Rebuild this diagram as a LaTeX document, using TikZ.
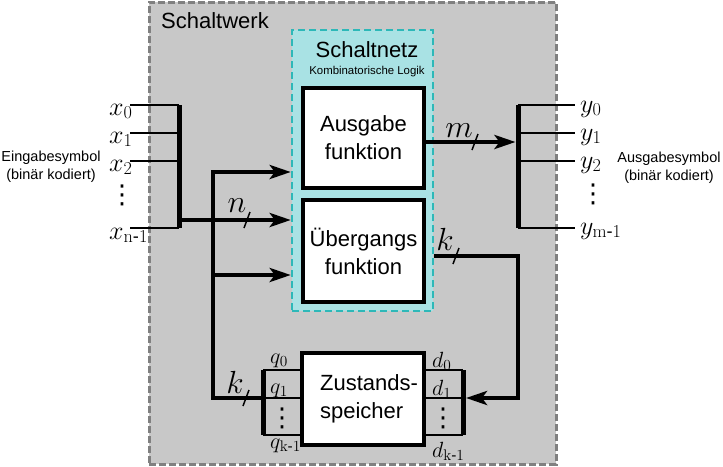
\RequirePackage{fix-cm}
\documentclass[tikz,border=0pt]{standalone}
\usepackage{amsmath}
\usepackage[no-math]{fontspec}
\setmainfont{Liberation Sans}
\newfontfamily\symfont{DejaVu Sans}
\usetikzlibrary{arrows.meta}
\newcommand{\punkte}{{\symfont ⋮}}
\definecolor{werkfill}{HTML}{C8C8C8}
\definecolor{werkline}{HTML}{808080}
\definecolor{netzfill}{HTML}{A9E2E4}
\definecolor{netzline}{HTML}{2DB8B8}

\begin{document}
\begin{tikzpicture}[
		x=1pt, y=-1pt,
		>={Stealth[length=21pt, width=14pt, inset=5pt]},
		werk/.style={
			draw=werkline, fill=werkfill, line width=3pt, dash pattern=on 7pt off 3pt,
			inner sep=0pt
		},
		netz/.style={
			draw=netzline, fill=netzfill, line width=2.5pt, dash pattern=on 7pt off 4pt,
			inner sep=0pt
		},
		block/.style={
			draw, line width=4pt, fill=white, minimum width=121pt,
			align=center, inner sep=0pt, font=\fontsize{22}{28}\selectfont
		},
		conn/.style={line width=4.5pt},
		bus/.style={line width=5pt},
		wire/.style={line width=1.5pt},
		title/.style={inner sep=0pt, font=\fontsize{22}{26}\selectfont},
		sidelabel/.style={align=center, font=\fontsize{14.5}{18}\selectfont},
		sig/.style={inner sep=0pt, anchor=base west, font=\fontsize{26}{30}\selectfont},
		reg/.style={inner sep=0pt, anchor=base west, font=\fontsize{22}{26}\selectfont},
		buslabel/.style={inner sep=0pt, anchor=base, font=\fontsize{32}{36}\selectfont},
		dots/.style={inner sep=0pt, font=\fontsize{26}{30}\selectfont}
		]
		
		\useasboundingbox (0,0) rectangle (723,466);
		
		% Frames
		\node[werk, minimum width=407pt, minimum height=462pt] (werk) at (352.5,233) {};
		\node[title, anchor=base west] (werktitle) at (161,28) {Schaltwerk};
		\node[netz, minimum width=141pt, minimum height=281pt] (netz) at (362.5,170.5) {};
		\node[title, anchor=base] (netztitle) at (367,57) {Schaltnetz};
		\node[inner sep=0pt, anchor=base, font=\fontsize{11.4}{13}\selectfont] (netzsub) at (367,74) {Kombinatorische Logik};
		
		% Main blocks
		\node[block, minimum height=100pt] (aus) at (363.5,138) {Ausgabe\\funktion};
		\node[block, minimum height=102pt] (ueb) at (363.5,251) {Übergangs\\funktion};
		\node[block, minimum width=122pt, minimum height=92pt, align=left] (zsp) at (363,399)
			{\hspace*{12pt}Zustands-\\\hspace*{12pt}speicher};
		
		% Side texts
		\node[sidelabel] (ein) at (51,167) {Eingabesymbol\\(binär kodiert)};
		\node[sidelabel] (aussym) at (669,168) {Ausgabesymbol\\(binär kodiert)};
		
		% --- Input bus ---
		\node[sig] (x0) at (109,115) {$x_0$};
		\node[sig] (x1) at (109,143) {$x_1$};
		\node[sig] (x2) at (109,171) {$x_2$};
		\node[dots] (xdots) at (122,195) {\punkte};
		\node[sig] (xn) at (109,239) {$x_{\mathrm{n}\text{-}\mathrm{1}}$};
		\coordinate (xs0) at (130,105);
		\coordinate (xs1) at (130,133);
		\coordinate (xs2) at (130,161);
		\coordinate (xsn) at (130,228);
		\coordinate (xb0) at (179,105);
		\coordinate (xb1) at (179,133);
		\coordinate (xb2) at (179,161);
		\coordinate (xbn) at (179,228);
		\draw[wire] (xs0) -- (xb0);
		\draw[wire] (xs1) -- (xb1);
		\draw[wire] (xs2) -- (xb2);
		\draw[wire] (xsn) -- (xbn);
		\draw[bus] (xb0) -- (xbn);
		
		% Input signals into the Schaltnetz
		\coordinate (nout) at (179,220);
		\coordinate (brtop) at (213,172);
		\coordinate (brlow) at (213,275);
		\coordinate (brbot) at (213,398);
		\coordinate (qin) at (263,398);
		\draw[conn,->] (nout) -- (nout -| netz.west);
		\draw[conn,->] (qin) -- (brbot) -- (brtop) -- (brtop -| netz.west);
		\draw[conn,->] (brlow) -- (brlow -| netz.west);
		\coordinate (sn) at (247,220);
		\draw[wire] (sn) ++(-3,8) -- ++(6,-16);
		\node[buslabel] (nlbl) at (237,212) {$n$};
		\coordinate (sk1) at (246,398);
		\draw[wire] (sk1) ++(-3,8) -- ++(6,-16);
		\node[buslabel] (klbl1) at (235,393) {$k$};
		
		% --- Output bus ---
		\coordinate (mbus) at (515.5,142);
		\draw[conn,->] (aus.east |- mbus) -- (mbus);
		\coordinate (sm) at (475,142);
		\draw[wire] (sm) ++(-3,8) -- ++(6,-16);
		\node[buslabel] (mlbl) at (459,137) {$m$};
		
		\coordinate (yb0) at (518,105);
		\coordinate (yb1) at (518,133);
		\coordinate (yb2) at (518,161);
		\coordinate (ybm) at (518,228);
		\coordinate (ye0) at (575,105);
		\coordinate (ye1) at (575,133);
		\coordinate (ye2) at (575,161);
		\coordinate (yem) at (575,228);
		\draw[bus] (yb0) -- (ybm);
		\draw[wire] (yb0) -- (ye0);
		\draw[wire] (yb1) -- (ye1);
		\draw[wire] (yb2) -- (ye2);
		\draw[wire] (ybm) -- (yem);
		\node[sig] (y0) at (580,112) {$y_0$};
		\node[sig] (y1) at (580,140) {$y_1$};
		\node[sig] (y2) at (580,168) {$y_2$};
		\node[dots] (ydots) at (593,194) {\punkte};
		\node[sig] (ym) at (580,234) {$y_{\mathrm{m}\text{-}\mathrm{1}}$};
		
		% --- Feedback through the Zustandsspeicher ---
		\coordinate (kcor1) at (518,256);
		\coordinate (kcor2) at (518,398);
		\coordinate (dbus) at (466,398);
		\draw[conn,->] (netz.east |- kcor1) -- (kcor1) -- (kcor2) -- (dbus);
		\coordinate (sk2) at (456,256);
		\draw[wire] (sk2) ++(-3,8) -- ++(6,-16);
		\node[buslabel] (klbl2) at (445,250) {$k$};
		
		% Register lines
		\coordinate (qb0) at (263,370);
		\coordinate (qb1) at (263,398);
		\coordinate (qbk) at (263,435);
		\coordinate (db0) at (463,370);
		\coordinate (db1) at (463,398);
		\coordinate (dbk) at (463,435);
		\draw[wire] (qb0) -- (qb0 -| zsp.west);
		\draw[wire] (qb1) -- (qb1 -| zsp.west);
		\draw[wire] (qbk) -- (qbk -| zsp.west);
		\draw[wire] (db0) -- (db0 -| zsp.east);
		\draw[wire] (db1) -- (db1 -| zsp.east);
		\draw[wire] (dbk) -- (dbk -| zsp.east);
		\draw[bus] (qb0) -- (qbk);
		\draw[bus] (db0) -- (dbk);
		\node[reg] (q0) at (270,363) {$q_0$};
		\node[reg] (q1) at (270,393) {$q_1$};
		\node[dots] (qdots) at (282,418) {\punkte};
		\node[reg] (qk) at (270,448) {$q_{\mathrm{k}\text{-}\mathrm{1}}$};
		\node[reg] (d0) at (432,367) {$d_0$};
		\node[reg] (d1) at (432,395) {$d_1$};
		\node[dots] (ddots) at (443,418) {\punkte};
		\node[reg] (dk) at (432,457) {$d_{\mathrm{k}\text{-}\mathrm{1}}$};
		
	\end{tikzpicture}
\end{document}
